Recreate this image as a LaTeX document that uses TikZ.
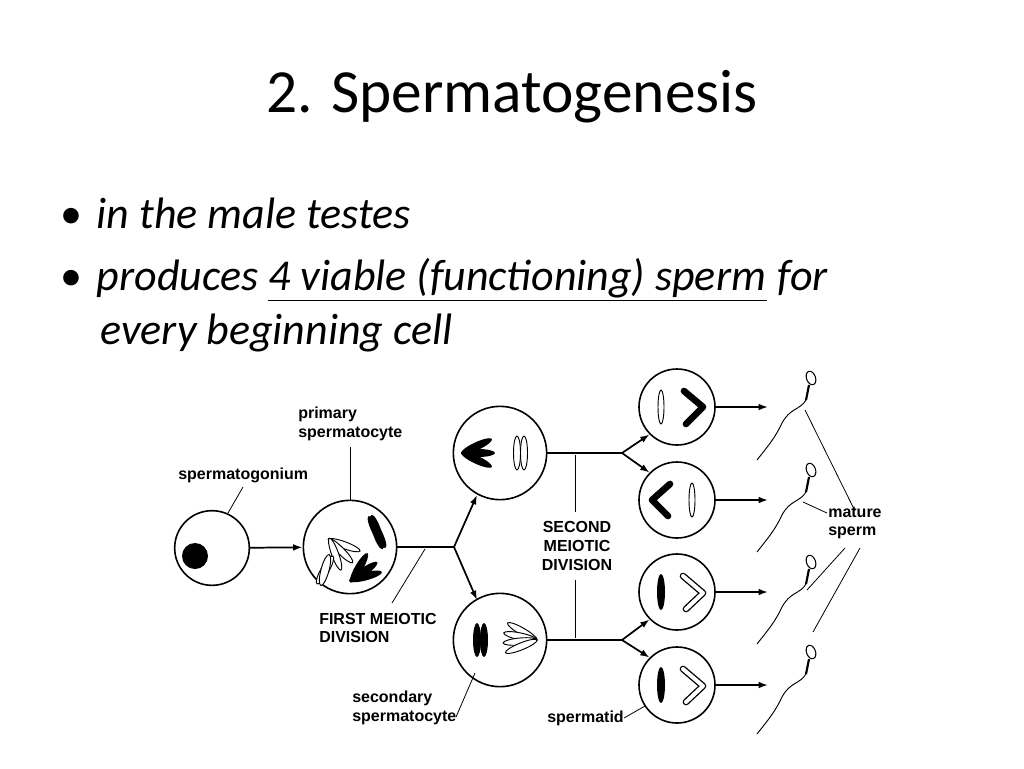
\documentclass[tikz,border=0pt]{standalone}
\usepackage{fontspec}
\setmainfont{Carlito}
\newfontfamily\lbl{Liberation Sans}
\usetikzlibrary{arrows.meta}
\begin{document}
\begin{tikzpicture}[x=0.75pt,y=-0.75pt,
  cell/.style={draw,line width=1.2pt,inner sep=0pt},
  lab/.style={font=\lbl\bfseries\fontsize{12}{14}\selectfont,align=left,inner sep=0pt},
  flow/.style={line width=1.3pt},
  arr/.style={line width=1.3pt,-{Latex[length=7pt,width=5pt]}},
  lead/.style={line width=0.6pt},
  ochr/.style={draw,fill=white,line width=0.7pt},
  bchr/.style={fill=black}]
\useasboundingbox (0,0) rectangle (1024,768);
% title and bullets
\node (title) at (512,97) {\fontsize{46}{52}\selectfont 2. Spermatogenesis};
\node[anchor=west,inner sep=0pt] (b1) at (60,213) {\fontsize{33}{40}\selectfont\textbullet\hspace{11pt}\itshape in the male testes};
\node[anchor=west,inner sep=0pt] (b2) at (60,280) {\fontsize{33}{40}\selectfont\textbullet\hspace{11pt}\itshape produces \underline{4 viable (functioning) sperm\hspace{1pt}} for};
\node[anchor=west,inner sep=0pt] (b3) at (100,333) {\fontsize{33}{40}\selectfont\itshape every beginning cell};
% cells
\node[cell,circle,minimum size=56pt] (sg) at (212,548) {};
\fill (195,556) circle (13);
\node[cell,circle,minimum size=70pt] (pc) at (350,547) {};
\node[cell,circle,minimum size=70pt] (s1) at (500,453) {};
\node[cell,circle,minimum size=70pt] (s2) at (500,640) {};
\node[cell,circle,minimum size=57pt] (t1) at (677,407) {};
\node[cell,circle,minimum size=57pt] (t2) at (677,500) {};
\node[cell,circle,minimum size=57pt] (t3) at (677,592) {};
\node[cell,circle,minimum size=57pt] (t4) at (677,685) {};
% chromosomes primary
\foreach \a in {-20,-45,-70}{\draw[ochr,rotate around={\a:(330,540)}] (345,540) ellipse (17 and 3.5);}
\foreach \a in {60,75}{\draw[ochr,rotate around={\a:(325,570)}] (325,570) ellipse (16 and 4);}
\foreach \a in {-62,-72}{\fill[rotate around={\a:(377,532)}] (377,532) ellipse (18 and 4.5);}
\foreach \a in {15,35,60}{\fill[rotate around={\a:(352,580)}] (366,580) ellipse (17 and 4);}
% secondary 1
\foreach \a in {-25,0,25}{\fill[rotate around={\a:(462,453)}] (478,453) ellipse (17 and 4);}
\draw[ochr] (517,453) ellipse (3.5 and 17);
\draw[ochr] (524,453) ellipse (3.5 and 17);
% secondary 2
\fill (477,640) ellipse (4 and 17);
\fill (484,640) ellipse (4 and 17);
\foreach \a in {-30,-12,5,22}{\draw[ochr,rotate around={\a:(537,640)}] (520,640) ellipse (17 and 3.5);}
% spermatids
\draw[ochr] (661,407) ellipse (3 and 17);
\draw[line width=5pt,line cap=round,line join=round] (684,391)--(703,407)--(686,424);
\draw[line width=5pt,line cap=round,line join=round] (670,484)--(652,500)--(668,516);
\draw[ochr] (692,500) ellipse (3 and 17);
\foreach \y in {592,685}{
  \fill (661,\y) ellipse (4 and 18);
  \draw[line width=5pt,line cap=round,line join=round] (683,{\y-16})--(703,{\y+1})--(686,{\y+17});
  \draw[white,line width=3pt,line cap=round,line join=round] (683,{\y-16})--(703,{\y+1})--(686,{\y+17});
}
% flow
\draw[arr] (sg) -- (pc);
\coordinate (j1) at (454,547);
\draw[flow] (pc) -- (j1);
\draw[arr] (j1) -- (477,495);
\draw[arr] (j1) -- (477,600);
\coordinate (j2) at (622,453);
\coordinate (j3) at (622,640);
\draw[flow] (s1) -- (j2);
\draw[flow] (s2) -- (j3);
\draw[arr] (j2) -- (t1.-135);
\draw[arr] (j2) -- (t2.135);
\draw[arr] (j3) -- (t3.-135);
\draw[arr] (j3) -- (t4.135);
\foreach \t/\y in {t1/407,t2/500,t3/592,t4/685}{
  \coordinate (e\t) at (768,\y);
  \draw[arr] (\t) -- (e\t);
}
% sperm
\foreach \i/\y in {1/378,2/470,3/562,4/652}{
  \draw[line width=0.8pt,rotate around={20:(811,\y)}] (811,\y) ellipse (4.5 and 7);
  \draw[line width=1.6pt] (809,{\y+7}) -- (806,{\y+22});
  \draw[line width=0.7pt] (806,{\y+22}) .. controls (800,{\y+32}) and (790,{\y+30}) .. (782,{\y+45}) .. controls (775,{\y+60}) and (768,{\y+68}) .. (757,{\y+82});
}
% labels
\node[lab,anchor=west] (lsg) at (178,475) {spermatogonium};
\draw[lead] (228,513) -- (243,487);
\node[lab,anchor=west] (lpc) at (298,424) {primary\\spermatocyte};
\draw[lead] (350,447) -- (pc.north);
\node[lab,anchor=west] (lfm) at (319,628) {FIRST MEIOTIC\\DIVISION};
\draw[lead] (392,603) -- (425,549);
\node[lab,anchor=west] (lss) at (352,708) {secondary\\spermatocyte};
\draw[lead] (456,717) -- (475,673);
\node[lab,align=center] (lsm) at (577,546) {SECOND\\MEIOTIC\\DIVISION};
\draw[lead] (575,455) -- (575,512);
\draw[lead] (575,580) -- (575,638);
\node[lab,anchor=west] (lst) at (547,718) {spermatid};
\draw[lead] (lst.east) -- (645,706);
\node[lab,anchor=west] (lms) at (828,523) {mature\\sperm};
\draw[lead] (805,410) -- (855,511);
\draw[lead] (803,502) -- (827,513);
\draw[lead] (845,548) -- (807,590);
\draw[lead] (860,548) -- (813,632);
\end{tikzpicture}
\end{document}
